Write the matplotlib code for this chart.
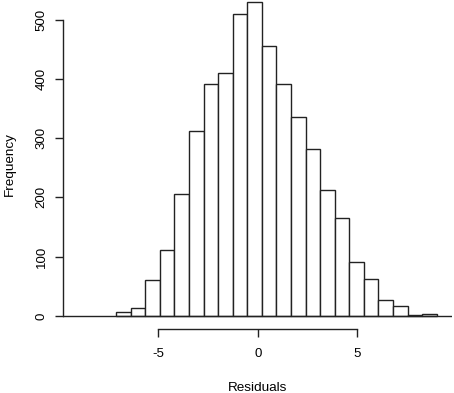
import numpy as np
import matplotlib
matplotlib.use("Agg")
import matplotlib.pyplot as plt

# histogram of residuals, counts
counts = [7, 13, 60, 111, 205, 312, 391, 409, 510, 530, 456,
          391, 336, 282, 213, 166, 91, 63, 27, 16, 2, 3]
bin_start = -7.125
bin_width = 0.733
x_ticks = [-5, 0, 5]
y_ticks = [0, 100, 200, 300, 400, 500]

plt.rcParams['font.family'] = ['Liberation Sans', 'DejaVu Sans']
plt.rcParams['axes.unicode_minus'] = False

fig = plt.figure(figsize=(4.54, 3.93), dpi=100)
ax = fig.add_axes([63 / 454, (393 - 328.5) / 393, (452 - 63) / 454, 328.5 / 393])

lefts = bin_start + bin_width * np.arange(len(counts))
ax.bar(lefts, counts, width=bin_width, align='edge', facecolor='white',
       edgecolor='#222222', linewidth=1.0)
ax.axhline(0, color='#222222', linewidth=1.0)

ax.set_xlim(-9.8, 9.77)
ax.set_ylim(-21.2, 532.9)

for s in ['top', 'right']:
    ax.spines[s].set_visible(False)
ax.spines['left'].set_bounds(0, 500)
ax.spines['bottom'].set_bounds(-5, 5)
for s in ['left', 'bottom']:
    ax.spines[s].set_color('#222222')
    ax.spines[s].set_linewidth(1.0)

ax.set_xticks(x_ticks)
ax.set_yticks(y_ticks)
ax.tick_params(direction='out', length=6, width=1.0, color='#222222',
               labelsize=9.5, pad=8)
ax.tick_params(axis='y', pad=5)
for lab in ax.get_yticklabels():
    lab.set_rotation(90)
    lab.set_va('center')

ax.set_xlabel('Residuals', fontsize=9.7, labelpad=16)
ax.set_ylabel('Frequency', fontsize=9.7, labelpad=14)

fig.savefig('out.png', dpi=100)
